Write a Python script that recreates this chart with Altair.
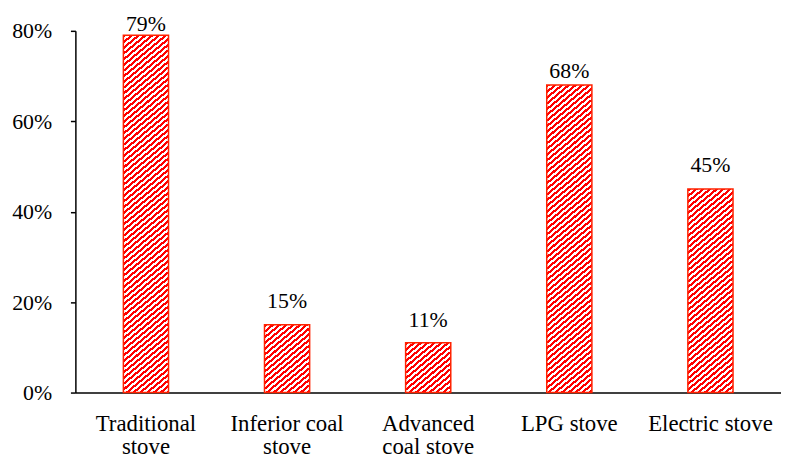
import math
import altair as alt
import pandas as pd

# ---- data ----
categories = ["Traditional\nstove", "Inferior coal\nstove", "Advanced\ncoal stove", "LPG stove", "Electric stove"]
values = [0.79, 0.15, 0.11, 0.68, 0.45]
value_labels = ["79%", "15%", "11%", "68%", "45%"]

# ---- styles ----
label_dy = [-4, -17, -16, -7, -17]
RED = "#ff0000"
STROKE = "#ff2200"
FONT = "Liberation Serif"
W, H = 712, 365
YMAX = 0.8
PAD_IN = 0.68
BAR_W = W / len(categories) * (1 - PAD_IN)
THETA = math.radians(40)
PERIOD = 4.4
RED_FRAC = 0.5

df = pd.DataFrame({"cat": categories, "val": values, "lab": value_labels})


def hatch(w, h):
    s, c = math.sin(THETA), math.cos(THETA)
    span = w * s + h * c
    k = span / (s * s * w / h + c * c * h / w)
    a = k * s / h
    b = k * c / w
    n = span / PERIOD
    stops = []
    i = 0
    while i < n:
        o0 = min(i / n, 1)
        o1 = min((i + RED_FRAC) / n, 1)
        o2 = min((i + 1) / n, 1)
        stops += [
            {"color": RED, "offset": o0},
            {"color": RED, "offset": o1},
            {"color": "#ffffff", "offset": o1},
            {"color": "#ffffff", "offset": o2},
        ]
        i += 1
    return {"gradient": "linear", "x1": 0, "y1": 0, "x2": a, "y2": b, "stops": stops}


x_enc = alt.X(
    "cat:N",
    scale=alt.Scale(domain=categories, paddingInner=PAD_IN, paddingOuter=PAD_IN / 2),
    axis=alt.Axis(
        title=None, labelAngle=0, ticks=False, labelPadding=20,
        labelExpr="split(datum.label, '\\n')", labelLineHeight=24,
        labelFontSize=23, domainColor="black", domainWidth=1.5,
    ),
)
y_enc = alt.Y(
    "val:Q",
    scale=alt.Scale(domain=[0, YMAX], nice=False),
    axis=alt.Axis(
        title=None, values=[0, 0.2, 0.4, 0.6, 0.8], format=".0%", grid=False,
        tickSize=5, tickColor="black", tickWidth=1.5, labelPadding=19,
        labelFontSize=22, domainColor="black", domainWidth=1.5,
    ),
)

base = alt.Chart(df)
layers = []
for i, cat in enumerate(categories):
    h = values[i] / YMAX * H
    bar = base.transform_filter(alt.datum.cat == cat).mark_bar(
        fill=hatch(BAR_W, h), stroke=STROKE, strokeWidth=1.5
    ).encode(x=x_enc, y=y_enc)
    txt = base.transform_filter(alt.datum.cat == cat).mark_text(
        font=FONT, fontSize=22, color="black", baseline="alphabetic", dy=label_dy[i]
    ).encode(x=x_enc, y=y_enc, text="lab:N")
    layers += [bar, txt]

chart = alt.layer(*layers).properties(
    width=W, height=H,
    autosize="none",
    padding={"left": 68, "top": 21, "right": 0, "bottom": 66},
    background="white",
).configure_view(stroke=None).configure_axis(
    labelFont=FONT, labelColor="black"
).configure_text(font=FONT)

chart.save("out.html", embed_options={"renderer": "svg", "actions": False})
